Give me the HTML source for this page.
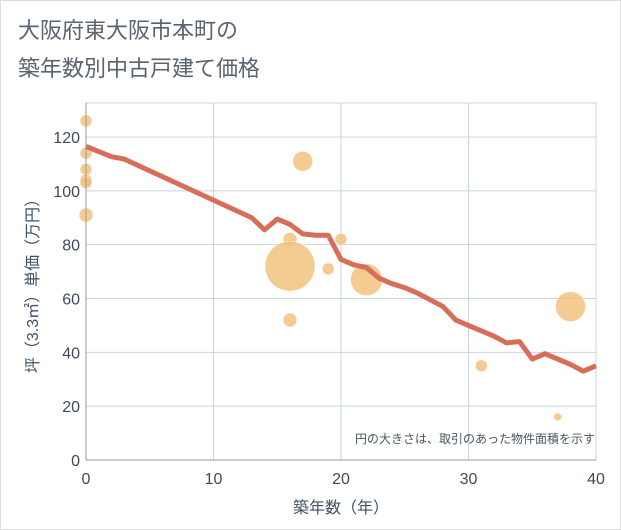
<!DOCTYPE html>
<html><head><meta charset="utf-8"><style>
body{margin:0;background:#fff;}
svg{display:block;font-family:"Liberation Sans","Noto Sans CJK JP",sans-serif;}
</style></head><body>
<svg id="chart" width="621" height="530">
<rect x="0.5" y="0.5" width="620" height="529" fill="#fff" stroke="#ddd"/>
<text x="18" y="38" font-size="22" fill="#5a6470">大阪府東大阪市本町の</text>
<text x="18" y="76" font-size="22" fill="#5a6470">築年数別中古戸建て価格</text>
<g id="grid"></g><g id="bubbles"></g><g id="line"></g><g id="axes"></g>
<text x="595" y="443" font-size="12" fill="#4a5560" text-anchor="end">円の大きさは、取引のあった物件面積を示す</text>
<text x="341" y="513" font-size="16" fill="#3f5366" text-anchor="middle">築年数（年）</text>
<text transform="translate(38,282) rotate(-90)" font-size="16" fill="#3f5366" text-anchor="middle">坪（3.3㎡）単価（万円）</text>
</svg>
<script>
const xTicks=[0,10,20,30,40];
const yTicks=[0,20,40,60,80,100,120];
const lineYears=[0,2,3,13,14,15,16,17,18,19,20,21,22,23,24,25,26,27,28,29,30,31,32,33,34,35,36,37,38,39,40];
const linePrices=[116.5,112.7,111.8,90,85.5,89.5,87.5,84,83.5,83.5,74.5,72.5,71.5,67.5,65.5,64,62,59.5,57,52,50,48,46,43.5,44,37.5,39.5,37.5,35.5,33,35];
const bubbleYears=[0,0,0,0,0,0,17,16,16,20,19,22,16,31,37,38];
const bubblePrices=[126,114,108,104,103,91,111,82,72,82,71,67,52,35,16,57];
const bubbleSizes=[6,6,6,6,6,7,10,7,25,6,6,16,7,6,4,15];
const X0=86,X1=596,Y0=460,Y1=137;
const sx=v=>X0+(v-0)/40*(X1-X0);
const sy=v=>Y0-v/120*(Y0-Y1);
const NS="http://www.w3.org/2000/svg";
function mk(t,p,a){const e=document.createElementNS(NS,t);for(const k in a)e.setAttribute(k,a[k]);p.appendChild(e);return e;}
const g=document.getElementById('grid'),ax=document.getElementById('axes');
mk('rect',g,{x:X0,y:103,width:X1-X0,height:Y0-103,fill:'none',stroke:'#c8d4e0'});
xTicks.forEach(t=>{
 const l=mk('line',g,{x1:sx(t),x2:sx(t),y1:103,y2:Y0,stroke:'#c8d4e0'});
 
 
 const tx=mk('text',ax,{x:sx(t),y:Y0+24,'font-size':16,fill:'#3f4a55','text-anchor':'middle'});tx.textContent=t;
 
 
});
yTicks.forEach(t=>{
 const l=mk('line',g,{x1:X0,x2:X1,y1:sy(t),y2:sy(t),stroke:'#c8d4e0'});
 
 
 const tx=mk('text',ax,{x:X0-6,y:sy(t)+6,'font-size':16,fill:'#3f4a55','text-anchor':'end'});tx.textContent=t;
 
 
});
const al=mk('line',ax,{x1:X0,x2:X0,y1:103,y2:Y0,stroke:'#999'});


const bl=mk('line',ax,{x1:X0,x2:X1,y1:Y0,y2:Y0,stroke:'#999'});


const bg=document.getElementById('bubbles');
bubbleYears.forEach((y,i)=>{
 const c=mk('circle',bg,{cx:sx(y),cy:sy(bubblePrices[i]),r:bubbleSizes[i],fill:'#f2c078',opacity:0.8,stroke:'#fff','stroke-width':0.5});
 
 
});
const p=mk('polyline',document.getElementById('line'),{points:lineYears.map((y,i)=>sx(y)+','+sy(linePrices[i])).join(' '),fill:'none',stroke:'#d66e5a','stroke-width':5,'stroke-linejoin':'round'});


</script>
</body></html>
